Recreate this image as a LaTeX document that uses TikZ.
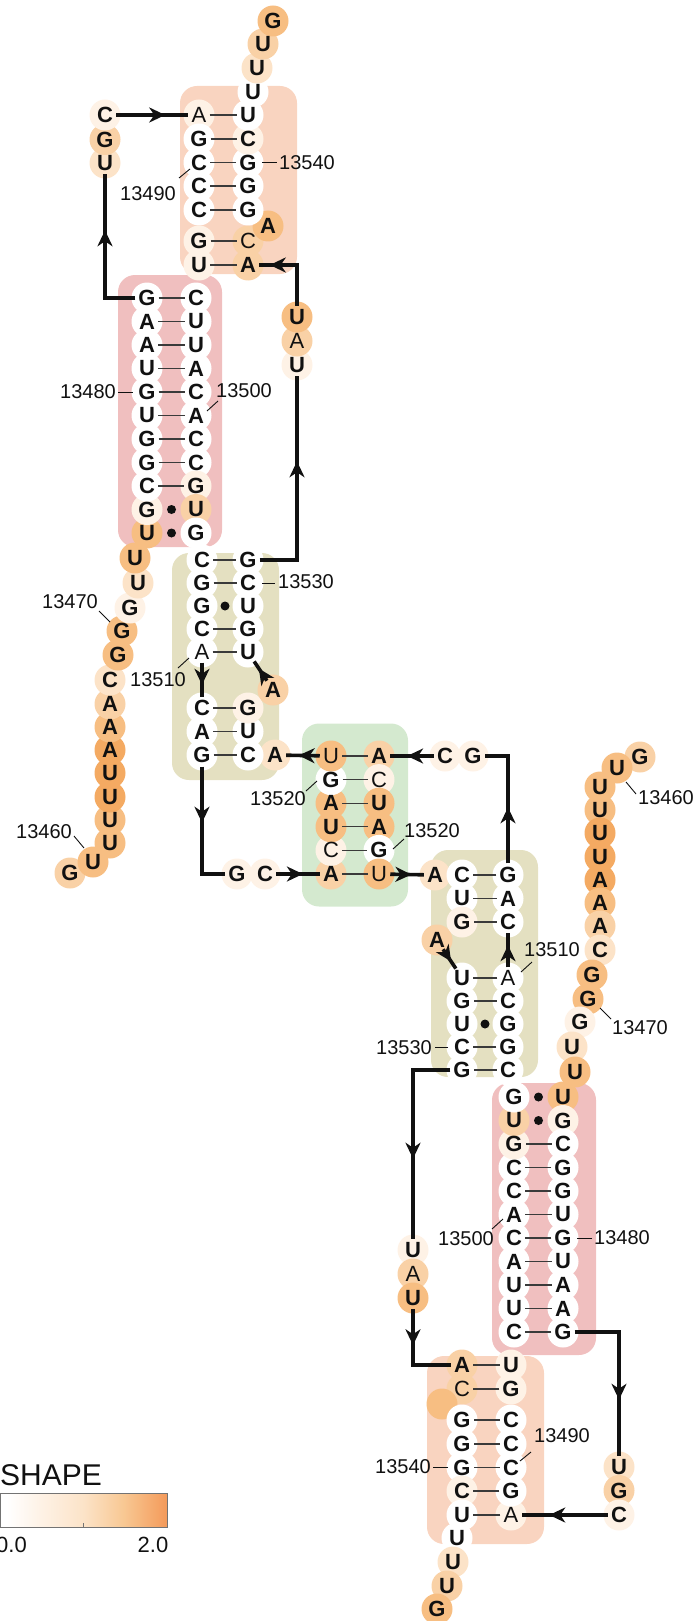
\documentclass[tikz,border=0pt]{standalone}
\usepackage{fontspec}
\setmainfont{Liberation Sans}
\usetikzlibrary{arrows.meta,calc,decorations.markings}
\definecolor{ink}{HTML}{111111}
\definecolor{pairc}{HTML}{3A3A3A}
\definecolor{lva}{HTML}{FEF2E6}
\definecolor{lvb}{HTML}{FCE3C8}
\definecolor{lvc}{HTML}{F9D1A6}
\definecolor{lvd}{HTML}{F7BE82}
\definecolor{lve}{HTML}{F4AA62}
\definecolor{barmid}{HTML}{F8C893}
\definecolor{barend}{HTML}{F49A5A}
\definecolor{boxt}{HTML}{F9D4C0}
\definecolor{boxr}{HTML}{F0BFBF}
\definecolor{boxo}{HTML}{E4E0C1}
\definecolor{boxg}{HTML}{D4E9CF}
\newcommand{\nucbold}{\fontsize{22}{22}\selectfont\bfseries}
\newcommand{\nucthin}{\fontsize{22}{22}\selectfont}
\newcommand{\idfont}{\fontsize{20}{20}\selectfont}
\newcommand{\legfont}{\fontsize{30}{30}\selectfont}
\newcommand{\tickfont}{\fontsize{22}{22}\selectfont}
\pgfdeclarelayer{boxes}
\pgfdeclarelayer{discs}
\pgfsetlayers{boxes,discs,main}
\pgfdeclarehorizontalshading{shapebar}{100bp}{color(0bp)=(white); color(27bp)=(white); color(37bp)=(lva); color(50bp)=(lvb); color(62bp)=(barmid); color(75bp)=(barend); color(100bp)=(barend)}
\tikzset{
  nt/.style={circle,inner sep=0pt,minimum size=18pt,font=\nucbold,text=ink,
    append after command={\pgfextra{\begin{pgfonlayer}{discs}\fill[#1] (\tikzlastnode.center) circle[radius=15.5pt];\end{pgfonlayer}}}},
  lite/.style={font=\nucthin},
  bb/.style={ink,line width=3.6pt},
  arr/.style={postaction={decorate},decoration={markings,mark=at position #1 with {\arrow{Stealth[length=16pt,width=15pt,inset=5pt]}}}},
  bp/.style={pairc,line width=1.2pt},
  idl/.style={font=\idfont,inner sep=0pt,text=ink},
  lead/.style={ink,line width=0.9pt},
  hbox/.style={rounded corners=17pt},
  legt/.style={font=\legfont,inner sep=0pt,text=ink},
}
\newcommand{\monomer}[5]{%
\begin{pgfonlayer}{boxes}
\fill[boxt,hbox] (#4,86) rectangle ++(117,188);
\fill[boxr,hbox] (#5,275) rectangle ++(104,272);
\fill[boxo,hbox] (172,553) rectangle (279,780);
\end{pgfonlayer}
\node[nt=lvc] (#1-59) at (70,873) {G};
\node[nt=lvd] (#1-60) at (93,862) {U};
\node[nt=lvd] (#1-61) at (110,843) {U};
\node[nt=lvd] (#1-62) at (110,820) {U};
\node[nt=lve] (#1-63) at (110,797) {U};
\node[nt=lve] (#1-64) at (110,773) {U};
\node[nt=lve] (#1-65) at (110,750) {A};
\node[nt=lvd] (#1-66) at (110,727) {A};
\node[nt=lvc] (#1-67) at (110,704) {A};
\node[nt=lvb] (#1-68) at (110,680) {C};
\node[nt=lvd] (#1-69) at (118,655) {G};
\node[nt=lvd] (#1-70) at (122,631) {G};
\node[nt=lva] (#1-71) at (130,608) {G};
\node[nt=lvb] (#1-72) at (138,583) {U};
\node[nt=lvd] (#1-73) at (135,558) {U};
\node[nt=lvd] (#1-74) at (147,533) {U};
\node[nt=lva] (#1-75) at (147,509.5) {G};
\node[nt=white] (#1-76) at (147,486) {C};
\node[nt=white] (#1-77) at (147,462.5) {G};
\node[nt=white] (#1-78) at (147,439) {G};
\node[nt=white] (#1-79) at (147,415.5) {U};
\node[nt=white] (#1-80) at (147,392) {G};
\node[nt=white] (#1-81) at (147,368.5) {U};
\node[nt=white] (#1-82) at (147,345) {A};
\node[nt=white] (#1-83) at (147,321.5) {A};
\node[nt=white] (#1-84) at (147,298) {G};
\node[nt=lvb] (#1-85) at (#3,163) {U};
\node[nt=lvc] (#1-86) at (#3,139.5) {G};
\node[nt=lva] (#1-87) at (#3,115) {C};
\node[nt=lva,lite] (#1-88) at (199,115) {A};
\node[nt=white] (#1-89) at (199,139) {G};
\node[nt=white] (#1-90) at (199,162.5) {C};
\node[nt=white] (#1-91) at (199,186) {C};
\node[nt=white] (#1-92) at (199,210) {C};
\node[nt=lva] (#1-93) at (199,241) {G};
\node[nt=lva] (#1-94) at (199,265) {U};
\node[nt=white] (#1-95) at (196,298) {C};
\node[nt=white] (#1-96) at (196,321.5) {U};
\node[nt=white] (#1-97) at (196,345) {U};
\node[nt=white] (#1-98) at (196,368.5) {A};
\node[nt=white] (#1-99) at (196,392) {C};
\node[nt=white] (#1-100) at (196,415.5) {A};
\node[nt=white] (#1-101) at (196,439) {C};
\node[nt=white] (#1-102) at (196,462.5) {C};
\node[nt=lva] (#1-103) at (196,486) {G};
\node[nt=lvc] (#1-104) at (196,509.5) {U};
\node[nt=white] (#1-105) at (196,533) {G};
\node[nt=white] (#1-106) at (202,560) {C};
\node[nt=white] (#1-107) at (202,583) {G};
\node[nt=white] (#1-108) at (202,606) {G};
\node[nt=white] (#1-109) at (202,629) {C};
\node[nt=white,lite] (#1-110) at (202,652) {A};
\node[nt=white] (#1-111) at (202,708) {C};
\node[nt=white] (#1-112) at (202,731.5) {A};
\node[nt=white] (#1-113) at (202,755) {G};
\node[nt=lva] (#1-114) at (237,874) {G};
\node[nt=lva] (#1-115) at (265,874) {C};
\node[nt=lvc] (#1-116) at (331,874) {A};
\node[nt=lva,lite] (#1-117) at (331,850.4) {C};
\node[nt=lvd] (#1-118) at (331,826.8) {U};
\node[nt=lvd] (#1-119) at (331,803.2) {A};
\node[nt=white] (#1-120) at (331,779.6) {G};
\node[nt=lvd,lite] (#1-121) at (331,756) {U};
\node[nt=lvb] (#1-122) at (275,755) {A};
\node[nt=white] (#1-123) at (248,755) {C};
\node[nt=white] (#1-124) at (248,731.5) {U};
\node[nt=lva] (#1-125) at (248,708) {G};
\node[nt=lvc] (#1-126) at (273,690) {A};
\node[nt=white] (#1-127) at (248,652) {U};
\node[nt=white] (#1-128) at (248,629) {G};
\node[nt=white] (#1-129) at (248,606) {U};
\node[nt=white] (#1-130) at (248,583) {C};
\node[nt=white] (#1-131) at (248,560) {G};
\node[nt=lvc] (#1-135) at (248,265) {A};
\node[nt=lvc,lite] (#1-136) at (248,241) {C};
\node[nt=lvd] (#1-137) at (268,226) {#2};
\node[nt=white] (#1-138) at (248,210) {G};
\node[nt=white] (#1-139) at (248,186) {G};
\node[nt=white] (#1-140) at (248,162.5) {G};
\node[nt=lva] (#1-141) at (248,139) {C};
\node[nt=white] (#1-142) at (248,115) {U};
\node[nt=white] (#1-143) at (253,92) {U};
\node[nt=lvb] (#1-144) at (257,68) {U};
\node[nt=lvc] (#1-145) at (263,44) {U};
\node[nt=lvd] (#1-146) at (273,21) {G};
\draw[bb,arr=-56pt] (#1-84) -| (#1-85);
\draw[bb,arr=0.68] (#1-87) -- (#1-88);
\draw[bb,arr=0.65] (#1-110) -- (#1-111);
\draw[bb,arr=56pt] (#1-113) |- (#1-114);
\draw[bb,arr=0.61] (#1-115) -- (#1-116);
\draw[bb,arr=0.63] (#1-121) -- (#1-122);
\draw[bb,arr=0.63] (#1-126) -- (#1-127);
\draw[bp] (#1-88) -- (#1-142);
\draw[bp] (#1-89) -- (#1-141);
\draw[bp] (#1-90) -- (#1-140);
\draw[bp] (#1-91) -- (#1-139);
\draw[bp] (#1-92) -- (#1-138);
\draw[bp] (#1-93) -- (#1-136);
\draw[bp] (#1-94) -- (#1-135);
\draw[bp] (#1-84) -- (#1-95);
\draw[bp] (#1-83) -- (#1-96);
\draw[bp] (#1-82) -- (#1-97);
\draw[bp] (#1-81) -- (#1-98);
\draw[bp] (#1-80) -- (#1-99);
\draw[bp] (#1-79) -- (#1-100);
\draw[bp] (#1-78) -- (#1-101);
\draw[bp] (#1-77) -- (#1-102);
\draw[bp] (#1-76) -- (#1-103);
\fill[ink] ($(#1-75)!0.5!(#1-104)$) circle[radius=4.5pt];
\fill[ink] ($(#1-74)!0.5!(#1-105)$) circle[radius=4.5pt];
\draw[bp] (#1-106) -- (#1-131);
\draw[bp] (#1-107) -- (#1-130);
\fill[ink] ($(#1-108)!0.5!(#1-129)$) circle[radius=4.5pt];
\draw[bp] (#1-109) -- (#1-128);
\draw[bp] (#1-110) -- (#1-127);
\draw[bp] (#1-111) -- (#1-125);
\draw[bp] (#1-112) -- (#1-124);
\draw[bp] (#1-113) -- (#1-123);
\node[idl] (#1-n460) at (44,832) {13460};
\draw[lead] (74,836) -- (84,848);
\node[idl] (#1-n470) at (70,602) {13470};
\draw[lead] (99,611) -- (110,622);
\node[idl] (#1-n480) at (88,392) {13480};
\draw[lead] (118,392) -- (133,392);
\node[idl] (#1-n490) at (148,194) {13490};
\draw[lead] (179,178) -- (190,169);
\node[idl] (#1-n500) at (244,391) {13500};
\draw[lead] (207,411) -- (218,401);
\node[idl] (#1-n510) at (158,680) {13510};
\draw[lead] (178,668) -- (189,658);
\node[idl] (#1-n520) at (278,799) {13520};
\draw[lead] (306,791) -- (317,781);
\node[idl] (#1-n530) at (306,582) {13530};
\draw[lead] (262,583) -- (275,583);
\node[idl] (#1-n540) at (307,163) {13540};
\draw[lead] (262,162.5) -- (277,162.5);
}

\begin{document}
\begin{tikzpicture}[x=1pt,y=-1pt]
\useasboundingbox (0,0) rectangle (693,1621);
\begin{pgfonlayer}{boxes}
\fill[boxg,hbox] (302,723.5) rectangle (408,906.5);
\end{pgfonlayer}
\monomer{a}{A}{105}{180}{118}
\node[nt=lva] (a-132) at (297,365) {U};
\node[nt=lvc,lite] (a-133) at (297,341) {A};
\node[nt=lvd] (a-134) at (297,317) {U};
\draw[bb,arr=136pt] (a-131) -| (a-132);
\draw[bb,arr=68pt] (a-134) |- (a-135);
\begin{scope}[rotate around={180:(355,815)}]
\monomer{b}{}{91}{166}{114}
\node[nt=lva] (b-132) at (297,380) {U};
\node[nt=lvc,lite] (b-133) at (297,356) {A};
\node[nt=lvd] (b-134) at (297,332) {U};
\draw[bb,arr=126pt] (b-131) -| (b-132);
\draw[bb,arr=36pt] (b-134) |- (b-135);
\end{scope}
\draw[bp] (a-116) -- (b-121);
\draw[bp] (a-117) -- (b-120);
\draw[bp] (a-118) -- (b-119);
\draw[bp] (a-119) -- (b-118);
\draw[bp] (a-120) -- (b-117);
\draw[bp] (a-121) -- (b-116);
\node[legt,anchor=base west] (shapettl) at (0,1485) {SHAPE};
\shade[shading=shapebar,draw=black!55,line width=1pt] (0,1493) rectangle (167,1527);
\draw[black!55,line width=0.8pt] (83.5,1527) -- (83.5,1523);
\node[legt,font=\tickfont,anchor=base] (shapelo) at (11.5,1552) {0.0};
\node[legt,font=\tickfont,anchor=base] (shapehi) at (153,1552) {2.0};
\end{tikzpicture}
\end{document}
